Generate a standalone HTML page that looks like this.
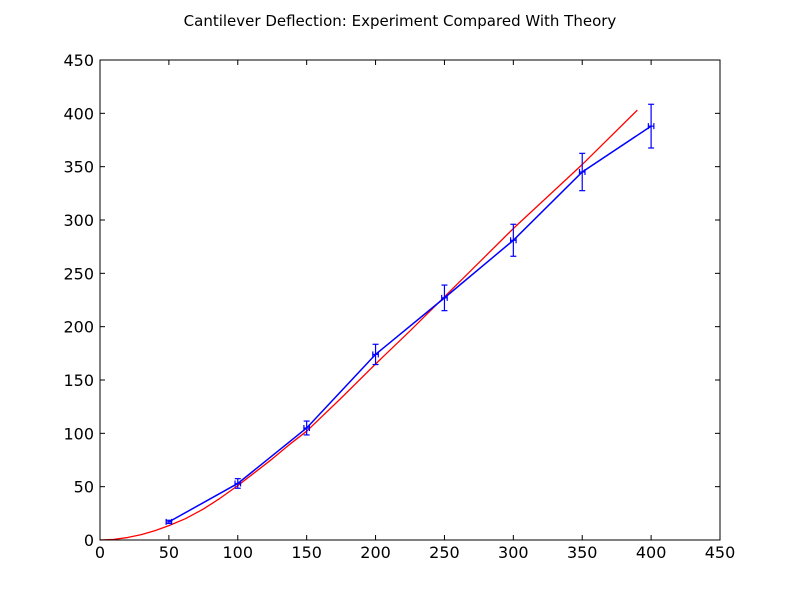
<!DOCTYPE html>
<html><head><meta charset="utf-8"><style>
body{margin:0;background:#fff;}
svg text{font-family:"DejaVu Sans","Liberation Sans",sans-serif;}
</style></head><body>
<svg id="chart" width="800" height="600" xmlns="http://www.w3.org/2000/svg">
<rect width="800" height="600" fill="#fff"/>
<text x="400" y="26" text-anchor="middle" font-size="15">Cantilever Deflection: Experiment Compared With Theory</text>
<g id="marks"></g>
<rect x="100" y="60" width="620" height="480" fill="none" stroke="#000" stroke-width="1"/>
<g id="axes"></g>
</svg>
<script>
const expX=[50,100,150,200,250,300,350,400];
const expY=[17,53,105,174,227,281,345,388];
const expYErr=[1.5,4.5,6.5,9.5,12,15,17.5,20.5];
const expXErr=[2,2,2,2,2,2,2,2];
const theoryX=[0,10,20,30,40,50,62,75,87,100,112,125,137,150,175,200,225,250,275,300,325,350,390];
const theoryY=[0,0.6,2.3,5,8.8,13.5,20,29,39,51,63,76,89,102,133,165,196,228,260,292,322,352,403];
const xTicks=[0,50,100,150,200,250,300,350,400,450];
const yTicks=[0,50,100,150,200,250,300,350,400,450];
const X=v=>100+v*620/450, Y=v=>540-v*480/450;
const NS="http://www.w3.org/2000/svg";
function mk(t,a,p){const e=document.createElementNS(NS,t);for(const k in a)e.setAttribute(k,a[k]);p.appendChild(e);return e;}
const marks=document.getElementById('marks'), axes=document.getElementById('axes');
let d=theoryX.map((x,i)=>(i?'L':'M')+X(x)+','+Y(theoryY[i])).join('');
const th=mk('path',{d:d,fill:'none',stroke:'#ff0000','stroke-width':1.3,'stroke-linejoin':'round'},marks);


d=expX.map((x,i)=>(i?'L':'M')+X(x)+','+Y(expY[i])).join('');
const ex=mk('path',{d:d,fill:'none',stroke:'#0000ff','stroke-width':1.5},marks);


expX.forEach((x,i)=>{
  const g=mk('g',{stroke:'#0000ff','stroke-width':1.2},marks);
  
  
  const cx=X(x),t=Y(expY[i]+expYErr[i]),b=Y(expY[i]-expYErr[i]),cy=Y(expY[i]);
  const l=X(x-expXErr[i]),r=X(x+expXErr[i]);
  mk('line',{x1:cx,y1:t,x2:cx,y2:b},g);
  mk('line',{x1:cx-3,y1:t,x2:cx+3,y2:t},g);
  mk('line',{x1:cx-3,y1:b,x2:cx+3,y2:b},g);
  mk('line',{x1:l,y1:cy,x2:r,y2:cy},g);
  mk('line',{x1:l,y1:cy-3,x2:l,y2:cy+3},g);
  mk('line',{x1:r,y1:cy-3,x2:r,y2:cy+3},g);
});
xTicks.forEach(v=>{
  const x=X(v);
  mk('line',{x1:x,y1:540,x2:x,y2:535,stroke:'#000'},axes);
  mk('line',{x1:x,y1:60,x2:x,y2:65,stroke:'#000'},axes);
  const t=mk('text',{x:x,y:558,'text-anchor':'middle','font-size':16},axes);
  t.textContent=v;
  
  
});
yTicks.forEach(v=>{
  const y=Y(v);
  mk('line',{x1:100,y1:y,x2:105,y2:y,stroke:'#000'},axes);
  mk('line',{x1:720,y1:y,x2:715,y2:y,stroke:'#000'},axes);
  const t=mk('text',{x:94,y:y+6,'text-anchor':'end','font-size':16},axes);
  t.textContent=v;
  
  
});
</script>
</body></html>
